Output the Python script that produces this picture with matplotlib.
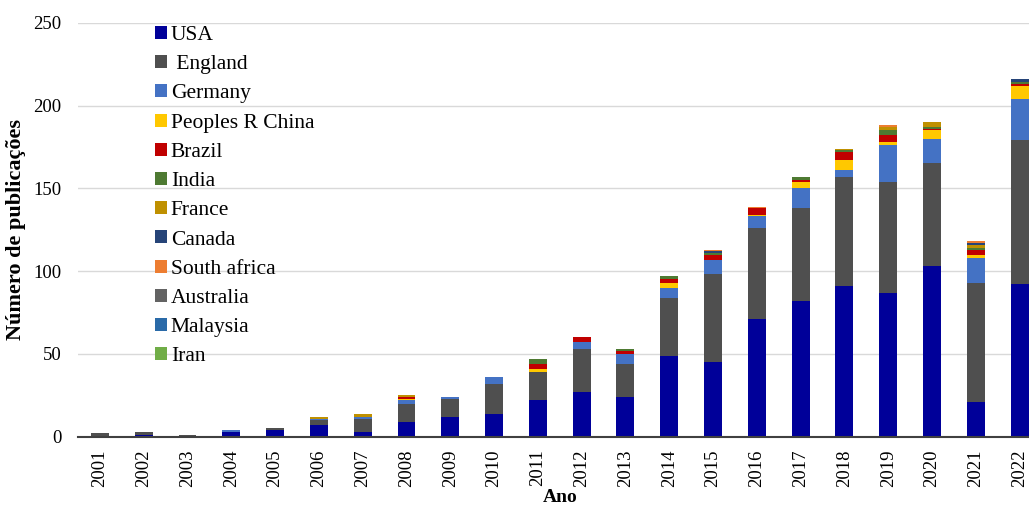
import matplotlib.pyplot as plt
import numpy as np

# anos no eixo x
anos = [str(a) for a in range(2001, 2023)]

# publicacoes por pais (2001..2022)
usa = [0, 1, 0, 3, 4, 7, 3, 9, 12, 14, 22, 27, 24, 49, 45, 71, 82, 91, 87, 103, 21, 92]
england = [2, 2, 1, 0, 1, 3, 8, 11, 11, 18, 17, 26, 20, 35, 53, 55, 56, 66, 67, 62, 72, 87]
germany = [0, 0, 0, 1, 0, 1, 1, 2, 1, 4, 0, 4, 6, 6, 9, 7, 12, 4, 22, 15, 15, 25]
china = [0, 0, 0, 0, 0, 0, 0, 1, 0, 0, 2, 0, 0, 3, 0, 1, 4, 6, 2, 5, 2, 8]
brazil = [0, 0, 0, 0, 0, 0, 0, 1, 0, 0, 3, 3, 2, 2, 3, 4, 1, 5, 4, 1, 3, 1]
india = [0, 0, 0, 0, 0, 0, 0, 0, 0, 0, 3, 0, 1, 2, 1, 0, 2, 1, 3, 1, 1, 1]
france = [0, 0, 0, 0, 0, 1, 2, 1, 0, 0, 0, 0, 0, 0, 0, 0, 0, 1, 2, 3, 2, 0]
canada = [0, 0, 0, 0, 0, 0, 0, 0, 0, 0, 0, 0, 0, 0, 1, 0, 0, 0, 0, 0, 1, 2]
south_africa = [0, 0, 0, 0, 0, 0, 0, 0, 0, 0, 0, 0, 0, 0, 1, 1, 0, 0, 1, 0, 1, 0]
australia = [0] * 22
malaysia = [0] * 22
iran = [0] * 22

paises = ["USA", " England", "Germany", "Peoples R China", "Brazil", "India",
          "France", "Canada", "South africa", "Australia", "Malaysia", "Iran"]
series = [usa, england, germany, china, brazil, india,
          france, canada, south_africa, australia, malaysia, iran]
cores = ['#000099', '#4F4F4F', '#4472C4', '#FFC800', '#C00000', '#4E7A32',
         '#BF9000', '#264478', '#ED7D31', '#636363', '#2A6AA8', '#70AD47']

plt.rcParams['font.family'] = ['Liberation Serif', 'DejaVu Serif']

fig = plt.figure(figsize=(10.29, 5.09), dpi=100)
ax = fig.add_axes([0.0758, 0.142, 0.9364, 0.8134])

x = np.arange(len(anos))
base = np.zeros(len(anos))
for nome, valores, cor in zip(paises, series, cores):
    ax.bar(x, valores, width=0.41, bottom=base, color=cor, label=nome, zorder=3)
    base += np.array(valores)

ax.set_xlim(-0.5, len(anos) - 0.5)
ax.set_ylim(0, 250)
ax.set_yticks([0, 50, 100, 150, 200, 250])
ax.set_xticks(x)
ax.set_xticklabels(anos, rotation=90, fontsize=13.5)
ax.tick_params(axis='y', labelsize=13.5, length=0, pad=12)
ax.tick_params(axis='x', length=0, pad=9)

ax.grid(axis='y', color='#D9D9D9', linewidth=1, zorder=0)
for lado in ['top', 'right', 'left']:
    ax.spines[lado].set_visible(False)
ax.spines['bottom'].set_color('#404040')
ax.spines['bottom'].set_linewidth(1.5)
ax.spines['bottom'].set_zorder(4)

ax.set_ylabel("Número de publicações", fontsize=16, fontweight='bold', labelpad=5)
ax.set_xlabel("Ano", fontsize=14, fontweight='bold', labelpad=2)

leg = ax.legend(loc='upper left', bbox_to_anchor=(0.142, 0.966), bbox_transform=fig.transFigure,
                frameon=False, fontsize=15.5, handlelength=0.55, handleheight=0.55,
                handletextpad=0.2, labelspacing=0.47, borderaxespad=0)

fig.savefig("out.png", dpi=100)
